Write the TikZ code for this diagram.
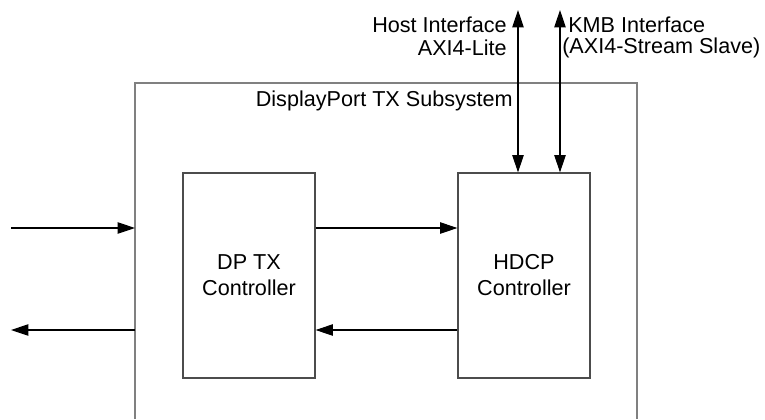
\documentclass[tikz,border=0pt]{standalone}
\usepackage{fontspec}
\setmainfont{Liberation Sans}
\usetikzlibrary{arrows.meta,calc}

\tikzset{
  block/.style={draw=black!70, line width=0.8pt, minimum width=99pt, minimum height=153.75pt,
                align=center, inner sep=0pt, font=\fontsize{16.2}{19.5}\selectfont},
  frame/.style={draw=black!50, line width=0.8pt},
  sig/.style={draw=black, line width=0.8pt, -{Triangle[length=13pt,width=8.5pt]}},
  bisig/.style={draw=black, line width=0.8pt, {Triangle[length=13pt,width=8.5pt]}-{Triangle[length=13pt,width=8.5pt]}},
  lbl/.style={inner sep=0pt, font=\fontsize{16.2}{19.5}\selectfont}
}

\begin{document}
\begin{tikzpicture}[x=0.75pt, y=-0.75pt]
  \useasboundingbox (0,0) rectangle (765,419);

  % subsystem frame (open at the bottom of the page)
  \coordinate (subTL) at (135,83);
  \coordinate (subTR) at (637,83);
  \draw[frame] (135,419) -- (subTL) -- (subTR) -- (637,419);
  \node[lbl, anchor=east] (subtitle) at (513,101) {DisplayPort TX Subsystem};

  % the two controllers
  \node[block] (dptx) at (249,275.5) {DP TX\\Controller};
  \node[block] (hdcp) at (524,275.5) {HDCP\\Controller};

  % external video in / out
  \coordinate (vin)  at (11,228);
  \coordinate (vout) at (11,330);
  \draw[sig] (vin) -- (vin -| subTL);
  \draw[sig] (vout -| subTL) -- (vout);

  % DP TX <-> HDCP
  \draw[sig] (dptx.east |- vin) -- (hdcp.west |- vin);
  \draw[sig] (hdcp.west |- vout) -- (dptx.east |- vout);

  % host and key management interfaces
  \coordinate (hostTop) at (518,10);
  \coordinate (kmbTop)  at (560,10);
  \draw[bisig] (hostTop) -- (hostTop |- hdcp.north);
  \draw[bisig] (kmbTop) -- (kmbTop |- hdcp.north);

  \node[lbl, anchor=east] (hostA) at (507,25) {Host Interface};
  \node[lbl, anchor=east] (hostB) at (507,48) {AXI4-Lite};
  \node[lbl, anchor=west] (kmbA) at (568,25) {KMB Interface};
  \node[lbl, anchor=west] (kmbB) at (562,48) {(AXI4-Stream Slave)};
\end{tikzpicture}
\end{document}
